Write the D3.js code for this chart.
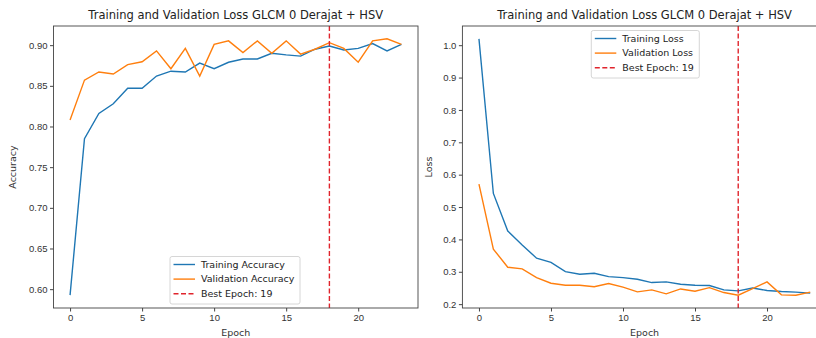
<!DOCTYPE html>
<html>
<head>
<meta charset="utf-8">
<script src="https://cdn.jsdelivr.net/npm/d3@7"></script>
<style>
  body { margin: 0; background: #fff; }
  svg { display: block; font-family: "DejaVu Sans", sans-serif; }
  .tick text { fill: #333; font-size: 9.5px; }
  .tick line { stroke: #444; }
  .domain { display: none; }
</style>
</head>
<body>
<svg width="816" height="338"></svg>
<script>
var epochs = d3.range(0, 24);

var trainAcc = [0.5926, 0.785, 0.816, 0.828, 0.847, 0.847, 0.862, 0.868, 0.867, 0.878,
  0.871, 0.879, 0.883, 0.883, 0.890, 0.888, 0.8865, 0.895, 0.899, 0.894,
  0.896, 0.902, 0.893, 0.901];
var valAcc = [0.808, 0.857, 0.867, 0.8645, 0.876, 0.8796, 0.893, 0.871, 0.896, 0.862,
  0.901, 0.9053, 0.891, 0.9053, 0.890, 0.9053, 0.889, 0.895, 0.903, 0.896,
  0.879, 0.9053, 0.9078, 0.901];

var trainLoss = [1.0197, 0.542, 0.426, 0.383, 0.342, 0.329, 0.3005, 0.2924, 0.2955, 0.285,
  0.282, 0.277, 0.2667, 0.2687, 0.2616, 0.2585, 0.2575, 0.244, 0.241, 0.250,
  0.242, 0.239, 0.237, 0.234];
var valLoss = [0.571, 0.370, 0.314, 0.309, 0.282, 0.2647, 0.2585, 0.2585, 0.254, 0.2636,
  0.2524, 0.238, 0.244, 0.2318, 0.247, 0.240, 0.251, 0.2358, 0.2277, 0.248,
  0.2687, 0.2287, 0.2277, 0.237];

var bestEpoch = 18;
var xTicks = [0, 5, 10, 15, 20];
var accTicks = [0.60, 0.65, 0.70, 0.75, 0.80, 0.85, 0.90];
var lossTicks = [0.2, 0.3, 0.4, 0.5, 0.6, 0.7, 0.8, 0.9, 1.0];

var titleText = "Training and Validation Loss GLCM 0 Derajat + HSV";
var blue = "#1f77b4", orange = "#ff7f0e", red = "#e0242c";

var svg = d3.select("svg");

function panel(opts) {
  var left = opts.left, right = opts.right, top = 26, bottom = 308;
  var g = svg.append("g");

  var x = d3.scaleLinear().domain([-1.15, 24.15]).range([left, right]);
  var all = opts.train.concat(opts.val);
  var lo = d3.min(all), hi = d3.max(all), pad = (hi - lo) * 0.05;
  var y = d3.scaleLinear().domain([lo - pad, hi + pad]).range([bottom, top]);

  g.append("defs").append("clipPath").attr("id", opts.id)
    .append("rect").attr("x", left).attr("y", top)
    .attr("width", right - left).attr("height", bottom - top);

  g.append("g")
    .attr("transform", "translate(0," + bottom + ")")
    .call(d3.axisBottom(x).tickValues(xTicks).tickFormat(d3.format("d")).tickSize(3.5).tickPadding(3));

  g.append("g")
    .attr("transform", "translate(" + left + ",0)")
    .call(d3.axisLeft(y).tickValues(opts.yTicks).tickFormat(d3.format(opts.fmt)).tickSize(3.5).tickPadding(2.5))
    .selectAll("text").attr("dy", "0.33em");

  var plot = g.append("g").attr("clip-path", "url(#" + opts.id + ")");

  var line = d3.line()
    .x(function(d, i) { return x(epochs[i]); })
    .y(function(d) { return y(d); });

  plot.append("path").datum(opts.train)
    .attr("fill", "none").attr("stroke", blue).attr("stroke-width", 1.4)
    .attr("d", line);
  plot.append("path").datum(opts.val)
    .attr("fill", "none").attr("stroke", orange).attr("stroke-width", 1.4)
    .attr("d", line);

  plot.append("line")
    .attr("x1", x(bestEpoch)).attr("x2", x(bestEpoch))
    .attr("y1", top).attr("y2", bottom)
    .attr("stroke", red).attr("stroke-width", 1.4)
    .attr("stroke-dasharray", "5,2.5");

  g.append("rect")
    .attr("x", left).attr("y", top)
    .attr("width", right - left).attr("height", bottom - top)
    .attr("fill", "none").attr("stroke", "#444").attr("stroke-width", 0.9);

  g.append("text")
    .attr("x", (left + right) / 2).attr("y", 19)
    .attr("text-anchor", "middle")
    .attr("font-size", "11.5px").attr("fill", "#222")
    .text(titleText);

  g.append("text")
    .attr("x", (left + right) / 2).attr("y", 335.5)
    .attr("text-anchor", "middle")
    .attr("font-size", "9.5px").attr("fill", "#333")
    .text("Epoch");

  g.append("text")
    .attr("transform", "translate(" + opts.ylabelX + "," + (top + bottom) / 2 + ") rotate(-90)")
    .attr("text-anchor", "middle")
    .attr("font-size", "9.5px").attr("fill", "#333")
    .text(opts.ylabel);

  // legend
  var lg = g.append("g").attr("transform", "translate(" + opts.legend[0] + "," + opts.legend[1] + ")");
  lg.append("rect")
    .attr("width", opts.legend[2]).attr("height", 47.5)
    .attr("rx", 2)
    .attr("fill", "#fff").attr("fill-opacity", 0.8)
    .attr("stroke", "#ccc").attr("stroke-width", 0.8);
  var items = [
    { label: opts.labels[0], color: blue, dash: null },
    { label: opts.labels[1], color: orange, dash: null },
    { label: "Best Epoch: " + (bestEpoch + 1), color: red, dash: "5,2.5" }
  ];
  items.forEach(function(it, i) {
    var cy = 8 + i * 14.6;
    lg.append("line")
      .attr("x1", 3.5).attr("x2", 25).attr("y1", cy).attr("y2", cy)
      .attr("stroke", it.color).attr("stroke-width", 1.4)
      .attr("stroke-dasharray", it.dash);
    lg.append("text")
      .attr("x", 31).attr("y", cy).attr("dy", "0.35em")
      .attr("font-size", "9.5px").attr("fill", "#222")
      .text(it.label);
  });
}

panel({
  id: "clipA", left: 53.5, right: 418,
  train: trainAcc, val: valAcc,
  yTicks: accTicks, fmt: ".2f",
  ylabel: "Accuracy", ylabelX: 16,
  labels: ["Training Accuracy", "Validation Accuracy"],
  legend: [170, 256.5, 130]
});

panel({
  id: "clipB", left: 462.4, right: 826.8,
  train: trainLoss, val: valLoss,
  yTicks: lossTicks, fmt: ".1f",
  ylabel: "Loss", ylabelX: 432,
  labels: ["Training Loss", "Validation Loss"],
  legend: [591.3, 30.5, 108]
});
</script>
</body>
</html>
